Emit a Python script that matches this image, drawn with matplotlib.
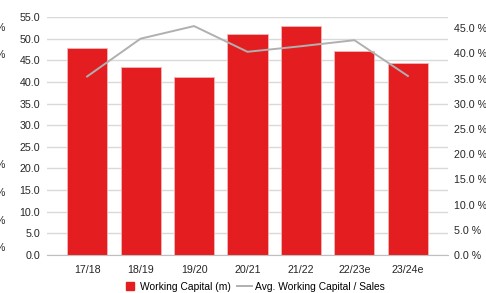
import numpy as np
import matplotlib
matplotlib.use("Agg")
import matplotlib.pyplot as plt
from matplotlib.lines import Line2D

plt.rcParams['font.family'] = ['Liberation Sans', 'DejaVu Sans']

# data
years = ['17/18', '18/19', '19/20', '20/21', '21/22', '22/23e', '23/24e']
working_capital = [47.8, 43.5, 41.2, 51.1, 52.9, 47.2, 44.3]   # left axis (m)
wc_to_sales = [35.4, 42.9, 45.4, 40.3, 41.4, 42.6, 35.5]        # right axis (%)
left_ticks = [0, 5, 10, 15, 20, 25, 30, 35, 40, 45, 50, 55]
right_ticks = [0, 5, 10, 15, 20, 25, 30, 35, 40, 45]

RED = '#e41e20'
GREY_LINE = '#b0b0b0'
GRID = '#d9d9d9'

fig = plt.figure(figsize=(4.86, 2.93), dpi=100)
ax = fig.add_axes([47/486, 1 - 255/293, 401/486, 238/293])
x = np.arange(len(years))

ax.bar(x, working_capital, width=0.75, color=RED, edgecolor='#f4b6b6', linewidth=0.6, zorder=2)
ax.set_xlim(-0.75, len(years) - 0.25)
ax.set_ylim(0, 55)
ax.set_yticks(left_ticks)
ax.set_yticklabels([f'{t:.1f}' for t in left_ticks])
ax.set_xticks(x)
ax.set_xticklabels(years)
ax.yaxis.grid(True, color=GRID, linewidth=1.0, zorder=0)
ax.set_axisbelow(True)
for s in ['top', 'right', 'left']:
    ax.spines[s].set_visible(False)
ax.spines['bottom'].set_color('#bfbfbf')
ax.tick_params(axis='both', length=0, labelsize=7.7, colors='#262626')
ax.tick_params(axis='y', pad=5)
ax.tick_params(axis='x', pad=7)

# secondary axis for the ratio
ax2 = ax.twinx()
ax2.plot(x, wc_to_sales, color=GREY_LINE, linewidth=1.4, zorder=3)
ax2.set_ylim(0, 47.2)
ax2.set_yticks(right_ticks)
ax2.set_yticklabels([f'{t:.1f} %' for t in right_ticks])
for s in ax2.spines.values():
    s.set_visible(False)
ax2.tick_params(axis='y', length=0, labelsize=7.7, colors='#262626', pad=4)

# legend below the chart
handles = [Line2D([], [], marker='s', color=RED, linestyle='none', markersize=6),
           Line2D([], [], color=GREY_LINE, linewidth=1.4)]
fig.legend(handles, ['Working Capital (m)', 'Avg. Working Capital / Sales'],
           loc='center', bbox_to_anchor=(0.522, 1 - 287/293), ncol=2, frameon=False,
           fontsize=7.4, handlelength=1.4, handletextpad=0.3, columnspacing=0.6)

# cut-off labels of the neighbouring chart on the left edge
for yy in [28, 55, 165, 193, 221, 248]:
    fig.text(5/486, 1 - yy/293, '%', ha='right', va='center', fontsize=7.7, color='#262626')

fig.savefig('out.png', dpi=100)
